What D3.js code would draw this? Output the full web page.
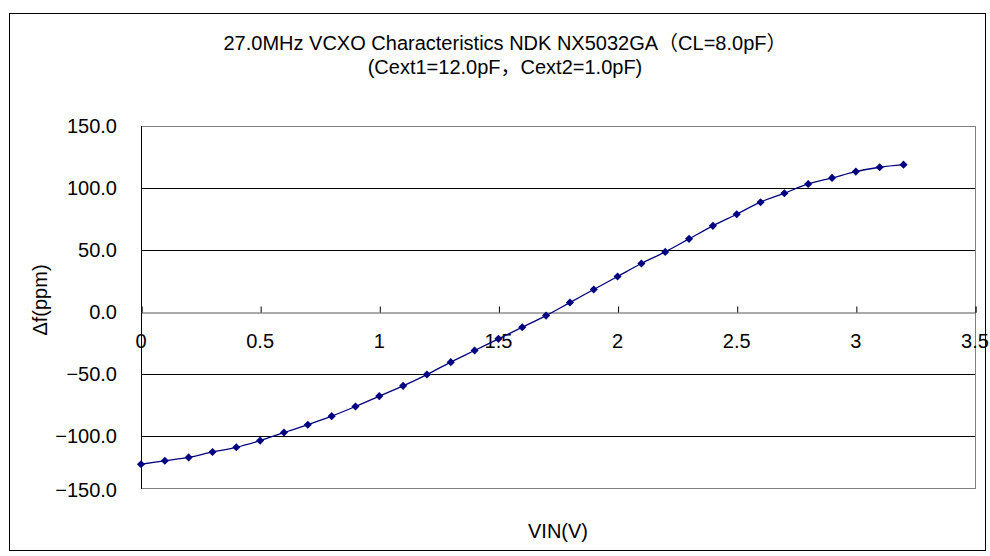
<!DOCTYPE html>
<html>
<head>
<meta charset="utf-8">
<script src="https://cdn.jsdelivr.net/npm/d3@7"></script>
<style>
  body { margin: 0; background: #fff; }
  text { font-family: "Liberation Sans", Arial, "Noto Sans CJK JP", sans-serif; fill: #000; }
</style>
</head>
<body>
<div class="canvas"></div>
<script>
// data
const vin = [0, 0.1, 0.2, 0.3, 0.4, 0.5, 0.6, 0.7, 0.8, 0.9, 1.0, 1.1, 1.2, 1.3, 1.4, 1.5, 1.6,
             1.7, 1.8, 1.9, 2.0, 2.1, 2.2, 2.3, 2.4, 2.5, 2.6, 2.7, 2.8, 2.9, 3.0, 3.1, 3.2];
const df = [-123.0, -120.2, -117.5, -113.1, -109.3, -103.9, -97.4, -91.1, -84.2, -76.4, -68.0,
            -59.7, -50.6, -40.6, -31.2, -21.8, -12.4, -3.0, 7.5, 18.0, 28.5, 39.0, 48.4,
            58.9, 69.4, 78.8, 88.5, 95.7, 103.2, 108.1, 113.2, 116.7, 118.8];
const xTicks = [0, 0.5, 1, 1.5, 2, 2.5, 3, 3.5];
const yTicks = [150, 100, 50, 0, -50, -100, -150];
const titleLines = ['27.0MHz VCXO Characteristics NDK NX5032GA（CL=8.0pF）',
                    '(Cext1=12.0pF，Cext2=1.0pF)'];
const xTitle = 'VIN(V)';
const yTitle = 'Δf(ppm)';

//1. dimensions
const width = 990, height = 556;
const plot = {left: 141, right: 975, top: 126, bottom: 488};

//2. svg
const svg = d3.select('.canvas')
    .append('svg')
    .attr('width', width)
    .attr('height', height);

// chart border
svg.append('rect')
    .attr('x', 9.5).attr('y', 13.5)
    .attr('width', 976).attr('height', 537)
    .attr('fill', 'none')
    .attr('stroke', '#000');

//3. scales
const x = d3.scaleLinear().domain([0, 3.5]).range([plot.left, plot.right]);
const y = d3.scaleLinear().domain([-150, 150]).range([497.7, plot.top]);

// gridlines
svg.append('g')
    .selectAll('line')
    .data(yTicks.filter(d => d !== 0 && d !== 150 && d !== -150))
    .join('line')
    .attr('x1', plot.left).attr('x2', plot.right)
    .attr('y1', d => Math.round(y(d)) + 0.5).attr('y2', d => Math.round(y(d)) + 0.5)
    .attr('stroke', '#000');

// plot frame
svg.append('rect')
    .attr('x', plot.left + 0.5).attr('y', plot.top + 0.5)
    .attr('width', plot.right - plot.left).attr('height', plot.bottom - plot.top)
    .attr('fill', 'none')
    .attr('stroke', '#808080');

svg.append('line')
    .attr('x1', plot.left + 0.5).attr('x2', plot.left + 0.5)
    .attr('y1', plot.top).attr('y2', plot.bottom + 1)
    .attr('stroke', '#000');

// y tick labels
svg.append('g')
    .selectAll('text')
    .data(yTicks)
    .join('text')
    .attr('x', plot.left - 24)
    .attr('y', d => Math.min(y(d), plot.bottom + 2))
    .attr('dy', '0.35em')
    .attr('text-anchor', 'end')
    .attr('font-size', 20)
    .text(d => d3.format('.1f')(d));

//4. x axis crossing at 0
const xAxis = d3.axisTop(x)
    .tickValues(xTicks)
    .tickSize(6)
    .tickFormat('');
const gx = svg.append('g')
    .attr('transform', `translate(0.5,${Math.round(y(0)) + 0.5})`)
    .call(xAxis);
gx.select('.domain').attr('stroke', '#555');
gx.selectAll('.tick line').attr('stroke', '#000');

svg.append('g')
    .selectAll('text')
    .data(xTicks)
    .join('text')
    .attr('x', d => x(d))
    .attr('y', y(0) + 29)
    .attr('dy', '0.35em')
    .attr('text-anchor', 'middle')
    .attr('font-size', 20)
    .text(d => d3.format('~g')(d));

//5. smoothed line + diamond markers
const points = vin.map((v, i) => ({v: v, f: df[i]}));

svg.append('path')
    .datum(points)
    .attr('d', d3.line().x(d => x(d.v)).y(d => y(d.f)).curve(d3.curveCatmullRom.alpha(0.5)))
    .attr('fill', 'none')
    .attr('stroke', '#000080')
    .attr('stroke-width', 1.3);

const diamond = d3.symbol().type(d3.symbolDiamond2 || d3.symbolDiamond).size(42);
svg.append('g')
    .selectAll('path')
    .data(points)
    .join('path')
    .attr('transform', d => `translate(${x(d.v)},${y(d.f)})`)
    .attr('d', diamond)
    .attr('fill', '#000080');

//6. titles
svg.append('g')
    .selectAll('text')
    .data(titleLines)
    .join('text')
    .attr('x', 505)
    .attr('y', (d, i) => 43 + i * 24)
    .attr('dy', '0.35em')
    .attr('text-anchor', 'middle')
    .attr('font-size', 20)
    .text(d => d);

svg.append('text')
    .attr('x', (plot.left + plot.right) / 2)
    .attr('y', 531)
    .attr('dy', '0.35em')
    .attr('text-anchor', 'middle')
    .attr('font-size', 20)
    .text(xTitle);

svg.append('text')
    .attr('transform', 'translate(40,300) rotate(-90)')
    .attr('dy', '0.35em')
    .attr('text-anchor', 'middle')
    .attr('font-size', 20)
    .text(yTitle);
</script>
</body>
</html>
